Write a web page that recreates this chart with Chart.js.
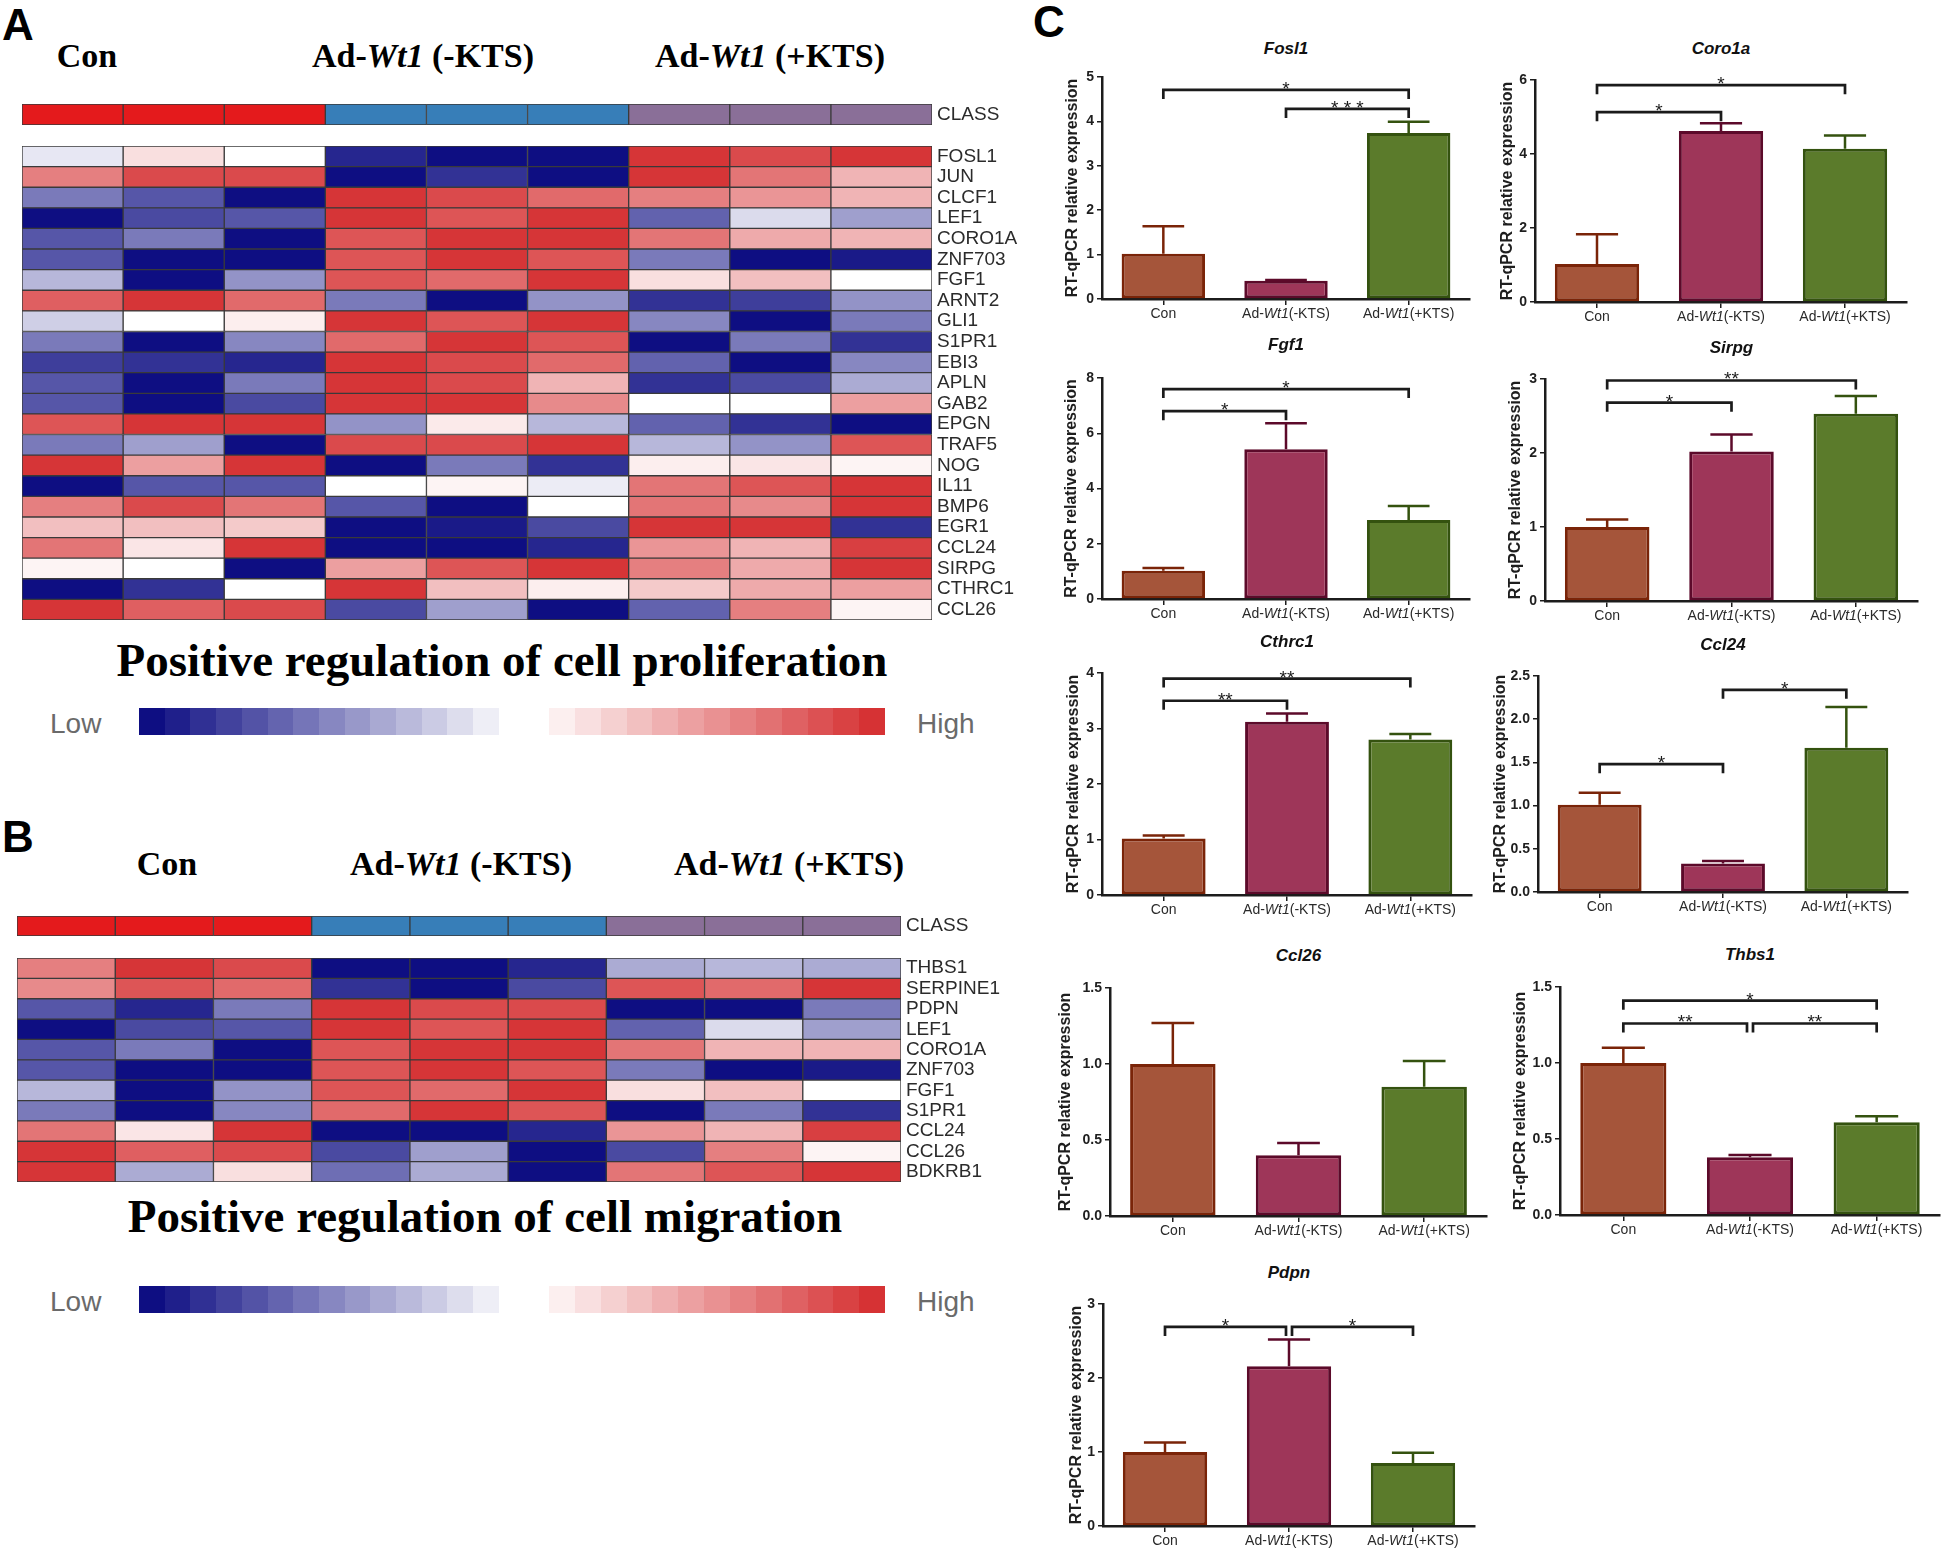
<!DOCTYPE html>
<html>
<head>
<meta charset="utf-8">
<script src="https://cdn.jsdelivr.net/npm/chart.js@4.4.0/dist/chart.umd.min.js"></script>
<style>
html, body { margin: 0; padding: 0; background: #fff; }
body { width: 1944px; height: 1551px; position: relative; overflow: hidden; font-family: "Liberation Sans", Arial, sans-serif; }
canvas { position: absolute; }
.t { position: absolute; white-space: nowrap; line-height: 1; }
.c { transform: translate(-50%, -50%); }
.panel { font: bold 44px "Liberation Sans", Arial, sans-serif; color: #000; }
.grp { font: bold 34px "Liberation Serif", "Times New Roman", serif; color: #000; }
.ttl { font: bold 47px "Liberation Serif", "Times New Roman", serif; color: #000; }
.lg { font: 28px "Liberation Sans", Arial, sans-serif; color: #6a6a6a; transform: translateY(-50%); }
.gene { font: italic bold 17px "Liberation Sans", Arial, sans-serif; color: #111; }
.blk { position: absolute; }
</style>
</head>
<body>
<script>
// ---------- data ----------
const SAMPLES = ['Con-1', 'Con-2', 'Con-3', '-KTS-1', '-KTS-2', '-KTS-3', '+KTS-1', '+KTS-2', '+KTS-3'];
const SAMPLE_CLASS = [0, 0, 0, 1, 1, 1, 2, 2, 2];
const CLASS_COLORS = ['#E41A1C', '#377EB8', '#8A6F98'];

const GENES_A = ['FOSL1', 'JUN', 'CLCF1', 'LEF1', 'CORO1A', 'ZNF703', 'FGF1', 'ARNT2', 'GLI1', 'S1PR1', 'EBI3', 'APLN',
  'GAB2', 'EPGN', 'TRAF5', 'NOG', 'IL11', 'BMP6', 'EGR1', 'CCL24', 'SIRPG', 'CTHRC1', 'CCL26'];
// z-score like values, -1 = lowest (blue), 1 = highest (red)
const HEAT_A = [
  [-0.1, 0.15, 0, -0.9, -1, -1, 0.95, 0.85, 0.95],
  [0.6, 0.85, 0.85, -1, -0.85, -1, 0.95, 0.65, 0.35],
  [-0.55, -0.7, -1, 0.95, 0.85, 0.7, 0.6, 0.5, 0.35],
  [-1, -0.75, -0.7, 0.95, 0.8, 0.95, -0.65, -0.15, -0.4],
  [-0.7, -0.55, -1, 0.8, 0.95, 0.95, 0.65, 0.4, 0.35],
  [-0.7, -1, -1, 0.8, 0.95, 0.8, -0.55, -1, -0.95],
  [-0.3, -1, -0.45, 0.8, 0.7, 0.95, 0.15, 0.3, 0],
  [0.75, 0.95, 0.7, -0.55, -1, -0.45, -0.85, -0.8, -0.45],
  [-0.2, 0, 0.08, 0.95, 0.8, 0.95, -0.5, -1, -0.55],
  [-0.55, -1, -0.5, 0.7, 0.95, 0.8, -1, -0.55, -0.85],
  [-0.8, -0.85, -0.9, 0.95, 0.85, 0.7, -0.65, -1, -0.5],
  [-0.7, -1, -0.55, 0.95, 0.85, 0.35, -0.85, -0.75, -0.35],
  [-0.7, -1, -0.75, 0.95, 0.95, 0.55, 0, 0, 0.45],
  [0.8, 0.95, 0.95, -0.45, 0.1, -0.3, -0.65, -0.85, -1],
  [-0.55, -0.4, -1, 0.85, 0.85, 0.95, -0.3, -0.45, 0.8],
  [0.95, 0.45, 0.95, -1, -0.55, -0.85, 0.08, 0.12, 0.05],
  [-1, -0.7, -0.7, 0, 0.05, -0.08, 0.65, 0.8, 0.95],
  [0.6, 0.85, 0.65, -0.7, -1, 0, 0.65, 0.55, 0.95],
  [0.3, 0.3, 0.25, -1, -0.95, -0.75, 0.95, 0.95, -0.85],
  [0.65, 0.12, 0.95, -1, -1, -0.9, 0.5, 0.35, 0.9],
  [0.05, 0, -1, 0.45, 0.8, 0.95, 0.6, 0.4, 0.95],
  [-1, -0.85, 0, 0.95, 0.3, 0.08, 0.25, 0.4, 0.45],
  [0.95, 0.75, 0.85, -0.75, -0.4, -1, -0.65, 0.6, 0.05]
];

const GENES_B = ['THBS1', 'SERPINE1', 'PDPN', 'LEF1', 'CORO1A', 'ZNF703', 'FGF1', 'S1PR1', 'CCL24', 'CCL26', 'BDKRB1'];
const HEAT_B = [
  [0.6, 0.95, 0.85, -1, -1, -0.9, -0.35, -0.3, -0.35],
  [0.55, 0.8, 0.7, -0.85, -1, -0.75, 0.8, 0.7, 0.95],
  [-0.7, -0.9, -0.55, 0.95, 0.85, 0.85, -1, -1, -0.55],
  [-1, -0.75, -0.7, 0.95, 0.8, 0.95, -0.65, -0.15, -0.4],
  [-0.7, -0.55, -1, 0.8, 0.95, 0.95, 0.65, 0.35, 0.35],
  [-0.7, -1, -1, 0.8, 0.95, 0.8, -0.55, -1, -0.95],
  [-0.3, -1, -0.45, 0.8, 0.7, 0.95, 0.15, 0.3, 0],
  [-0.55, -1, -0.5, 0.7, 0.95, 0.8, -1, -0.55, -0.85],
  [0.65, 0.12, 0.95, -1, -1, -0.9, 0.5, 0.35, 0.9],
  [0.95, 0.75, 0.85, -0.75, -0.4, -1, -0.75, 0.6, 0.05],
  [0.95, -0.35, 0.15, -0.6, -0.35, -1, 0.65, 0.8, 0.95]
];

const CATS = ['Con', 'Ad-Wt1(-KTS)', 'Ad-Wt1(+KTS)'];

const fosl1Mean = [1.02, 0.41, 3.74];
const fosl1Sem = [0.62, 0.02, 0.25];
const fosl1Ticks = [0, 1, 2, 3, 4, 5];
const fosl1Sig = [[0, 2, 4.71, '*'], [1, 2, 4.28, '* * *']];

const coro1aMean = [1.03, 4.62, 4.14];
const coro1aSem = [0.8, 0.21, 0.36];
const coro1aTicks = [0, 2, 4, 6];
const coro1aSig = [[0, 2, 5.86, '*'], [0, 1, 5.13, '*']];

const fgf1Mean = [1.02, 5.42, 2.86];
const fgf1Sem = [0.1, 0.94, 0.51];
const fgf1Ticks = [0, 2, 4, 6, 8];
const fgf1Sig = [[0, 2, 7.6, '*'], [0, 1, 6.8, '*']];

const sirpgMean = [1.0, 2.02, 2.53];
const sirpgSem = [0.1, 0.23, 0.24];
const sirpgTicks = [0, 1, 2, 3];
const sirpgSig = [[0, 2, 2.98, '**'], [0, 1, 2.68, '*']];

const cthrc1Mean = [1.02, 3.12, 2.8];
const cthrc1Sem = [0.05, 0.15, 0.1];
const cthrc1Ticks = [0, 1, 2, 3, 4];
const cthrc1Sig = [[0, 2, 3.9, '**'], [0, 1, 3.5, '**']];

const ccl24Mean = [1.01, 0.33, 1.67];
const ccl24Sem = [0.14, 0.03, 0.47];
const ccl24Ticks = [0, 0.5, 1, 1.5, 2, 2.5];
const ccl24Sig = [[0, 1, 1.48, '*'], [1, 2, 2.34, '*']];

const ccl26Mean = [1.0, 0.4, 0.85];
const ccl26Sem = [0.27, 0.08, 0.17];
const ccl26Ticks = [0, 0.5, 1, 1.5];
const ccl26Sig = [];

const thbs1Mean = [1.0, 0.38, 0.61];
const thbs1Sem = [0.1, 0.015, 0.04];
const thbs1Ticks = [0, 0.5, 1, 1.5];
const thbs1Sig = [[0, 2, 1.41, '*'], [0, 1, 1.26, '**'], [1, 2, 1.26, '**']];

const pdpnMean = [1.0, 2.16, 0.85];
const pdpnSem = [0.13, 0.36, 0.14];
const pdpnTicks = [0, 1, 2, 3];
const pdpnSig = [[0, 1, 2.69, '*'], [1, 2, 2.69, '*']];

// ---------- styles ----------
const LOW_RGB = [14, 14, 130];
const HIGH_RGB = [212, 42, 44];
const BAR_FILL = ['#A5553A', '#9E3659', '#5B7B2B'];
const BAR_EDGE = ['#7A2408', '#5C0A2A', '#34520F'];
const AXIS = '#1c1c1c';
const SANS = '"Liberation Sans", Arial, sans-serif';
Chart.defaults.font.family = SANS;

function heatColor(v) {
  const c = v < 0 ? LOW_RGB : HIGH_RGB;
  const t = Math.min(1, Math.abs(v));
  const m = a => Math.round(255 + (a - 255) * t);
  return `rgb(${m(c[0])},${m(c[1])},${m(c[2])})`;
}

function addCanvas(left, top, w, h) {
  const c = document.createElement('canvas');
  c.width = w; c.height = h;
  c.style.left = left + 'px'; c.style.top = top + 'px';
  c.style.width = w + 'px'; c.style.height = h + 'px';
  document.body.appendChild(c);
  return c;
}

function addText(html, x, y, cls) {
  const d = document.createElement('div');
  d.className = 't ' + cls;
  d.innerHTML = html;
  d.style.left = x + 'px'; d.style.top = y + 'px';
  document.body.appendChild(d);
  return d;
}

// heatmap as stacked horizontal bars: one row per gene, one dataset per sample
const LABEL_W = 110;
function heatmap(labels, colorRows, box) {
  const cv = addCanvas(box.left, box.top, box.w + LABEL_W, box.h);
  new Chart(cv, {
    type: 'bar',
    data: {
      labels,
      datasets: SAMPLES.map((s, j) => ({
        label: s,
        data: labels.map(() => 1),
        backgroundColor: colorRows.map(r => r[j]),
        borderColor: '#3a3a3a',
        borderWidth: 1,
        borderSkipped: false,
        barPercentage: 1,
        categoryPercentage: 1
      }))
    },
    options: {
      indexAxis: 'y',
      responsive: false,
      animation: false,
      devicePixelRatio: 1,
      layout: { padding: 0 },
      plugins: { legend: { display: false }, tooltip: { enabled: false } },
      scales: {
        x: { stacked: true, display: false, min: 0, max: SAMPLES.length },
        y: {
          stacked: true,
          position: 'right',
          grid: { display: false, drawTicks: false },
          border: { display: false },
          ticks: { color: '#2b2b2b', font: { size: 19 }, padding: 5, autoSkip: false },
          afterFit: s => { s.width = LABEL_W; s.paddingTop = 0; s.paddingBottom = 0; }
        }
      }
    }
  });
}

function extras(spec) {
  return {
    id: 'extras',
    afterDatasetsDraw(chart) {
      const { ctx, chartArea, scales: { x, y } } = chart;
      const bars = chart.getDatasetMeta(0).data;
      ctx.save();
      // error bars (upper whisker only)
      bars.forEach((bar, i) => {
        const top = y.getPixelForValue(spec.mean[i] + spec.sem[i]);
        const half = bar.width / 4;
        ctx.strokeStyle = BAR_EDGE[i];
        ctx.lineWidth = 2.5;
        ctx.beginPath();
        ctx.moveTo(bar.x, bar.y);
        ctx.lineTo(bar.x, top);
        ctx.moveTo(bar.x - half, top);
        ctx.lineTo(bar.x + half, top);
        ctx.stroke();
      });
      // significance brackets
      ctx.strokeStyle = '#1b1b1b';
      ctx.fillStyle = '#1b1b1b';
      ctx.lineWidth = 2.7;
      ctx.font = '19px ' + SANS;
      ctx.textAlign = 'center';
      ctx.textBaseline = 'alphabetic';
      spec.sig.forEach(s => {
        const [a, b, v, label] = s;
        const joinL = spec.sig.some(o => o !== s && o[2] === v && o[1] === a);
        const joinR = spec.sig.some(o => o !== s && o[2] === v && o[0] === b);
        const x1 = x.getPixelForValue(a) + (joinL ? 3 : 0);
        const x2 = x.getPixelForValue(b) - (joinR ? 3 : 0);
        const yy = y.getPixelForValue(v);
        ctx.beginPath();
        ctx.moveTo(x1, yy + 9);
        ctx.lineTo(x1, yy);
        ctx.lineTo(x2, yy);
        ctx.lineTo(x2, yy + 9);
        ctx.stroke();
        ctx.fillText(label, (x1 + x2) / 2, yy + 5);
      });
      // category labels, Wt1 in italics
      ctx.fillStyle = '#2a2a2a';
      ctx.textBaseline = 'middle';
      ctx.textAlign = 'left';
      CATS.forEach((c, i) => {
        const parts = c.split(/(Wt1)/).filter(Boolean);
        const fonts = parts.map(p => (p === 'Wt1' ? 'italic ' : '') + '14px ' + SANS);
        let w = 0;
        parts.forEach((p, k) => { ctx.font = fonts[k]; w += ctx.measureText(p).width; });
        let cx = x.getPixelForValue(i) - w / 2;
        const cy = chartArea.bottom + 15;
        parts.forEach((p, k) => {
          ctx.font = fonts[k];
          ctx.fillText(p, cx, cy);
          cx += ctx.measureText(p).width;
        });
      });
      ctx.restore();
    }
  };
}

function barChart(spec, b) {
  const YW = 56, XH = 40, PT = 12, PR = 6, TF = 16;
  const cv = addCanvas(b.ax - YW, b.yt - PT, b.ae - b.ax + YW + PR, b.yb - b.yt + PT + XH);
  const step = spec.ticks[1] - spec.ticks[0];
  new Chart(cv, {
    type: 'bar',
    data: {
      labels: CATS,
      datasets: [{
        data: spec.mean,
        backgroundColor: BAR_FILL,
        borderColor: BAR_EDGE,
        borderWidth: 3,
        borderSkipped: false,
        barPercentage: 0.68,
        categoryPercentage: 1
      }]
    },
    options: {
      responsive: false,
      animation: false,
      devicePixelRatio: 1,
      layout: { padding: { top: PT, right: PR, left: 0, bottom: 0 } },
      plugins: { legend: { display: false }, tooltip: { enabled: false } },
      scales: {
        x: {
          offset: true,
          grid: { offset: false, drawOnChartArea: false, tickLength: 6, color: AXIS, lineWidth: 1.5 },
          border: { color: AXIS, width: 2.5 },
          ticks: { color: 'rgba(0,0,0,0)', font: { size: 14 }, maxRotation: 0, autoSkip: false },
          afterFit: s => { s.height = XH; }
        },
        y: {
          min: spec.ticks[0],
          max: spec.ticks[spec.ticks.length - 1],
          ticks: { stepSize: step, color: '#1e1e1e', font: { size: 14, weight: 'bold' }, padding: 3,
            callback: v => step < 1 ? v.toFixed(1) : v },
          grid: { drawOnChartArea: false, tickLength: 5, color: AXIS, lineWidth: 1.5 },
          border: { color: AXIS, width: 2.5 },
          title: { display: true, text: 'RT-qPCR relative expression', color: '#1e1e1e',
            font: { size: TF, weight: 'bold' }, padding: { top: YW - b.tw - TF * 0.6, bottom: 0 } },
          afterFit: s => { s.width = YW; }
        }
      }
    },
    plugins: [extras(spec)]
  });
  addText(spec.name, (b.ax + b.ae) / 2, b.ty, 'gene c');
}

function legendBar(y) {
  addText('Low', 50, y + 3, 'lg');
  addText('High', 917, y + 3, 'lg');
  for (let k = 0; k < 14; k++) {
    const d = document.createElement('div');
    d.className = 'blk';
    d.style.cssText += `left:${139 + k * 25.7}px;top:${y - 13}px;width:26px;height:27px;background:${heatColor(-(14 - k) / 14)}`;
    document.body.appendChild(d);
  }
  for (let k = 0; k < 13; k++) {
    const d = document.createElement('div');
    d.className = 'blk';
    d.style.cssText += `left:${549 + k * 25.85}px;top:${y - 13}px;width:26px;height:27px;background:${heatColor((k + 1) / 13.5)}`;
    document.body.appendChild(d);
  }
}

// ---------- panels A and B ----------
addText('A', 2, 0, 'panel');
addText('Con', 87, 56, 'grp c');
addText('Ad-<i>Wt1</i> (-KTS)', 423, 56, 'grp c');
addText('Ad-<i>Wt1</i> (+KTS)', 770, 56, 'grp c');
heatmap(['CLASS'], [SAMPLE_CLASS.map(c => CLASS_COLORS[c])], { left: 22, top: 104, w: 910, h: 21 });
heatmap(GENES_A, HEAT_A.map(r => r.map(heatColor)), { left: 22, top: 146, w: 910, h: 474 });
addText('Positive regulation of cell proliferation', 502, 660, 'ttl c');
legendBar(721);

addText('B', 2, 812, 'panel');
addText('Con', 167, 864, 'grp c');
addText('Ad-<i>Wt1</i> (-KTS)', 461, 864, 'grp c');
addText('Ad-<i>Wt1</i> (+KTS)', 789, 864, 'grp c');
heatmap(['CLASS'], [SAMPLE_CLASS.map(c => CLASS_COLORS[c])], { left: 17, top: 916, w: 884, h: 20 });
heatmap(GENES_B, HEAT_B.map(r => r.map(heatColor)), { left: 17, top: 958, w: 884, h: 224 });
addText('Positive regulation of cell migration', 485, 1216, 'ttl c');
legendBar(1299);

// ---------- panel C ----------
addText('C', 1033, -3, 'panel');
const CHARTS = [
  { name: 'Fosl1', mean: fosl1Mean, sem: fosl1Sem, ticks: fosl1Ticks, sig: fosl1Sig },
  { name: 'Coro1a', mean: coro1aMean, sem: coro1aSem, ticks: coro1aTicks, sig: coro1aSig },
  { name: 'Fgf1', mean: fgf1Mean, sem: fgf1Sem, ticks: fgf1Ticks, sig: fgf1Sig },
  { name: 'Sirpg', mean: sirpgMean, sem: sirpgSem, ticks: sirpgTicks, sig: sirpgSig },
  { name: 'Cthrc1', mean: cthrc1Mean, sem: cthrc1Sem, ticks: cthrc1Ticks, sig: cthrc1Sig },
  { name: 'Ccl24', mean: ccl24Mean, sem: ccl24Sem, ticks: ccl24Ticks, sig: ccl24Sig },
  { name: 'Ccl26', mean: ccl26Mean, sem: ccl26Sem, ticks: ccl26Ticks, sig: ccl26Sig },
  { name: 'Thbs1', mean: thbs1Mean, sem: thbs1Sem, ticks: thbs1Ticks, sig: thbs1Sig },
  { name: 'Pdpn', mean: pdpnMean, sem: pdpnSem, ticks: pdpnTicks, sig: pdpnSig }
];
// plot boxes: axis x, axis end, y of top tick, y of zero, title centre y, y-title offset from axis
const BOXES = [
  { ax: 1102, ae: 1470, yt: 77, yb: 299, ty: 49, tw: 29 },
  { ax: 1535, ae: 1907, yt: 80, yb: 302, ty: 49, tw: 27 },
  { ax: 1102, ae: 1470, yt: 378, yb: 599, ty: 345, tw: 30 },
  { ax: 1545, ae: 1918, yt: 379, yb: 601, ty: 348, tw: 29 },
  { ax: 1102, ae: 1472, yt: 673, yb: 895, ty: 642, tw: 28 },
  { ax: 1538, ae: 1908, yt: 676, yb: 892, ty: 645, tw: 37 },
  { ax: 1110, ae: 1487, yt: 988, yb: 1216, ty: 956, tw: 44 },
  { ax: 1560, ae: 1940, yt: 987, yb: 1215, ty: 955, tw: 39 },
  { ax: 1103, ae: 1475, yt: 1304, yb: 1526, ty: 1273, tw: 26 }
];
CHARTS.forEach((c, i) => barChart(c, BOXES[i]));
</script>
</body>
</html>
